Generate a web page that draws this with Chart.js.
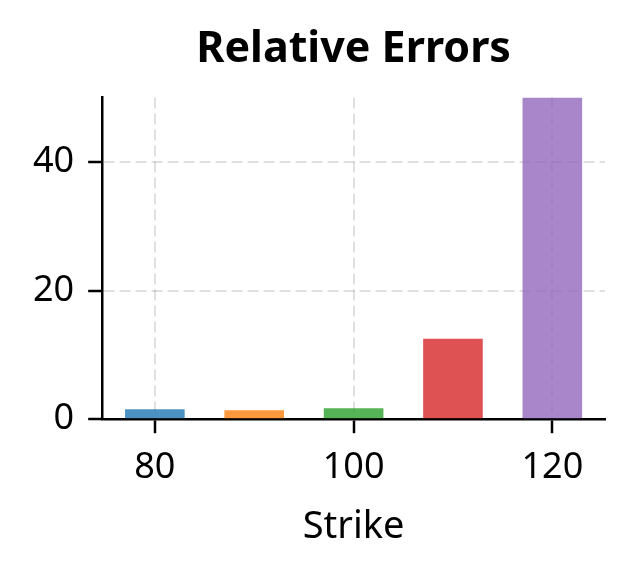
<!DOCTYPE html>
<html lang="en">
<head>
    <meta charset="UTF-8">
    <title>Relative Errors</title>
    <script src="https://cdn.jsdelivr.net/npm/chart.js"></script>
    <style>
        html, body {
            margin: 0;
            padding: 0;
            background: white;
        }
        .chart-container {
            width: 634px;
            height: 574px;
        }
    </style>
</head>
<body>
    <div class="chart-container">
        <canvas id="errChart"></canvas>
    </div>

    <script>
        // data
        const strikes = [80, 90, 100, 110, 120];
        const relErrors = [1.55, 1.4, 1.7, 12.5, 50];
        const xTicks = [80, 100, 120];
        const yTicks = [0, 20, 40];

        const colors = [
            'rgba(31, 119, 180, 0.8)',
            'rgba(255, 127, 14, 0.8)',
            'rgba(44, 160, 44, 0.8)',
            'rgba(214, 39, 40, 0.8)',
            'rgba(148, 103, 189, 0.8)'
        ];

        const font = 'Noto Sans';

        const ctx = document.getElementById('errChart').getContext('2d');
        new Chart(ctx, {
            type: 'bar',
            data: {
                datasets: [{
                    label: 'Relative Errors',
                    data: strikes.map((s, i) => ({ x: s, y: relErrors[i] })),
                    backgroundColor: colors,
                    borderWidth: 0,
                    barPercentage: 0.6,
                    categoryPercentage: 1.0
                }]
            },
            options: {
                responsive: true,
                maintainAspectRatio: false,
                animation: false,
                layout: {
                    padding: { top: 0, left: 19, right: 29, bottom: 24 }
                },
                plugins: {
                    legend: { display: false },
                    tooltip: { enabled: false },
                    title: {
                        display: true,
                        text: 'Relative Errors',
                        fullSize: false,
                        color: '#000',
                        font: { family: font, size: 43, weight: 'bold' },
                        padding: { top: 24, bottom: 22 }
                    }
                },
                scales: {
                    x: {
                        type: 'linear',
                        min: 74.7,
                        max: 125.3,
                        offset: false,
                        afterBuildTicks: axis => {
                            axis.ticks = xTicks.map(v => ({ value: v }));
                        },
                        grid: {
                            offset: false,
                            color: 'rgba(0, 0, 0, 0.12)',
                            lineWidth: 2,
                            tickColor: '#000',
                            tickWidth: 2.5,
                            tickLength: 14
                        },
                        border: {
                            display: true,
                            color: '#000',
                            width: 2.5,
                            dash: [11, 5]
                        },
                        ticks: {
                            color: '#000',
                            padding: 13,
                            maxRotation: 0,
                            font: { family: font, size: 36 }
                        },
                        title: {
                            display: true,
                            text: 'Strike',
                            color: '#000',
                            font: { family: font, size: 38 },
                            padding: { top: 2, bottom: 0 }
                        }
                    },
                    y: {
                        min: 0,
                        max: 50,
                        afterBuildTicks: axis => {
                            axis.ticks = yTicks.map(v => ({ value: v }));
                        },
                        grid: {
                            color: 'rgba(0, 0, 0, 0.12)',
                            lineWidth: 2,
                            tickColor: '#000',
                            tickWidth: 2.5,
                            tickLength: 14
                        },
                        border: {
                            display: true,
                            color: '#000',
                            width: 2.5,
                            dash: [11, 5]
                        },
                        ticks: {
                            color: '#000',
                            padding: 14,
                            font: { family: font, size: 36 }
                        }
                    }
                }
            }
        });
    </script>
</body>
</html>
